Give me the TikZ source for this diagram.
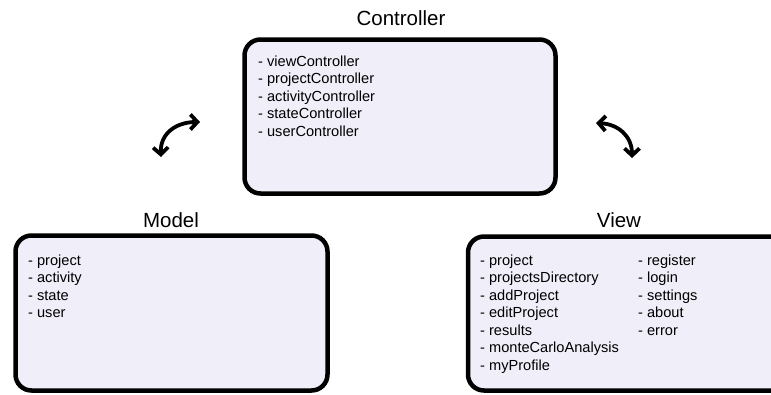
\documentclass[tikz,border=0pt]{standalone}
\usepackage{fontspec}
\setmainfont{Liberation Sans}
\usetikzlibrary{arrows.meta}
\definecolor{boxfill}{RGB}{239,238,249}
\tikzset{
  mvcbox/.style={draw=black, line width=4.5pt, fill=boxfill, rounded corners=16pt},
  mvctitle/.style={anchor=base, inner sep=0pt, font=\fontsize{20.5}{24}\selectfont},
  mvclist/.style={anchor=north west, inner sep=0pt, align=left, font=\fontsize{14.6}{17.5}\selectfont},
  swap/.style={line width=3.8pt, line cap=round, {Straight Barb[length=7pt,width=15pt,line width=3.8pt]}-{Straight Barb[length=7pt,width=15pt,line width=3.8pt]}}
}
\begin{document}
\begin{tikzpicture}[x=1pt,y=-1pt]
\useasboundingbox (0,0) rectangle (771,394);
\clip (0,0) rectangle (771,394);
% boxes
\draw[mvcbox] (244.5,39.5) rectangle (555.5,193.5);
\node[inner sep=0pt] (ctrl) at (400,116.5) {};
\draw[mvcbox] (15.5,235.5) rectangle (327.5,390.5);
\node[inner sep=0pt] (model) at (171.5,313) {};
\draw[mvcbox] (468,236.5) rectangle (790,390.5);
\node[inner sep=0pt] (view) at (619,313) {};
% titles
\node[mvctitle] (ctrlT) at (401,25) {Controller};
\node[mvctitle] (modelT) at (171,227) {Model};
\node[mvctitle] (viewT) at (619,227) {View};
% lists
\node[mvclist] (ctrlL) at (258,55.5) {- viewController\\- projectController\\- activityController\\- stateController\\- userController};
\node[mvclist] (modelL) at (28,254.5) {- project\\- activity\\- state\\- user};
\node[mvclist] (viewL1) at (480,254.5) {- project\\- projectsDirectory\\- addProject\\- editProject\\- results\\- monteCarloAnalysis\\- myProfile};
\node[mvclist] (viewL2) at (638,254.5) {- register\\- login\\- settings\\- about\\- error};
% arrows
\coordinate (la) at (161,157);
\coordinate (lb) at (200,122);
\coordinate (ra) at (596,123);
\coordinate (rb) at (632,158);
\draw[swap] (la) .. controls (160,132) and (178,122) .. (lb);
\draw[swap] (ra) .. controls (618,124) and (632,136) .. (rb);
\end{tikzpicture}
\end{document}
